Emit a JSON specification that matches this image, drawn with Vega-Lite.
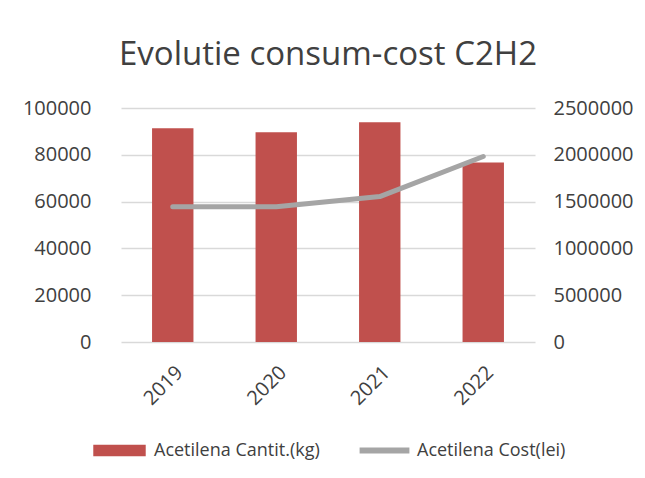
{
  "$schema": "https://vega.github.io/schema/vega-lite/v6.json",
  "width": 414,
  "height": 234,
  "padding": {"left": 22, "top": 39, "right": 5, "bottom": 5},
  "background": "white",
  "title": {
    "text": "Evolutie consum-cost C2H2",
    "font": "Open Sans",
    "fontSize": 33,
    "fontWeight": "normal",
    "color": "#404040",
    "anchor": "middle",
    "offset": 26
  },
  "data": {
    "values": [
      {"year": "2019", "cantit": 91300, "cost": 1446000},
      {"year": "2020", "cantit": 89600, "cost": 1446000},
      {"year": "2021", "cantit": 93900, "cost": 1554000},
      {"year": "2022", "cantit": 76700, "cost": 1982000}
    ]
  },
  "encoding": {
    "x": {
      "field": "year",
      "type": "ordinal",
      "scale": {"paddingInner": 0.6, "paddingOuter": 0.3},
      "axis": {
        "title": null,
        "labelAngle": -45,
        "labelFont": "Open Sans",
        "labelFontSize": 20,
        "labelColor": "#404040",
        "labelPadding": 20,
        "domain": false,
        "ticks": false,
        "grid": false
      }
    }
  },
  "layer": [
    {
      "mark": {"type": "bar", "color": "#C0504D"},
      "encoding": {
        "y": {
          "field": "cantit",
          "type": "quantitative",
          "scale": {"domain": [0, 100000], "nice": false},
          "axis": {
            "title": null,
            "values": [0, 20000, 40000, 60000, 80000, 100000],
            "format": "d",
            "labelFont": "Open Sans",
            "labelFontSize": 20,
            "labelColor": "#404040",
            "labelPadding": 30,
            "domain": false,
            "ticks": false,
            "grid": true,
            "gridColor": "#D9D9D9",
            "gridWidth": 1.5
          }
        },
        "color": {
          "datum": "Acetilena Cantit.(kg)",
          "scale": {"range": ["#C0504D"]},
          "legend": {
            "title": null,
            "orient": "bottom",
            "symbolType": "M-1,-0.22H1V0.22H-1Z",
            "symbolSize": 2750,
            "symbolStrokeWidth": 6,
            "symbolStrokeColor": "transparent",
            "labelFont": "Open Sans",
            "labelFontSize": 18,
            "labelColor": "#404040",
            "labelOffset": 5,
            "labelLimit": 400,
            "padding": 0
          }
        }
      }
    },
    {
      "mark": {"type": "line", "strokeWidth": 5, "strokeCap": "round", "strokeJoin": "round", "color": "#A5A5A5"},
      "encoding": {
        "x": {"field": "year", "type": "ordinal", "bandPosition": 0.5},
        "y": {
          "field": "cost",
          "type": "quantitative",
          "scale": {"domain": [0, 2500000], "nice": false},
          "axis": {
            "title": null,
            "orient": "right",
            "values": [0, 500000, 1000000, 1500000, 2000000, 2500000],
            "format": "d",
            "labelFont": "Open Sans",
            "labelFontSize": 20,
            "labelColor": "#404040",
            "labelPadding": 18,
            "domain": false,
            "ticks": false,
            "grid": false
          }
        },
        "color": {
          "datum": "Acetilena Cost(lei)",
          "scale": {"range": ["#A5A5A5"]},
          "legend": {
            "title": null,
            "orient": "bottom",
            "symbolType": "M-0.95,0H0.95",
            "symbolSize": 2750,
            "symbolStrokeWidth": 6,
            "symbolStrokeColor": "#A5A5A5",
            "labelFont": "Open Sans",
            "labelFontSize": 18,
            "labelColor": "#404040",
            "labelOffset": 3,
            "labelLimit": 400,
            "padding": 0
          }
        }
      }
    }
  ],
  "resolve": {"scale": {"y": "independent", "color": "independent"}},
  "config": {
    "view": {"stroke": null},
    "legend": {
      "offset": 12,
      "layout": {"bottom": {"anchor": "middle", "direction": "horizontal", "margin": 35}}
    }
  }
}
